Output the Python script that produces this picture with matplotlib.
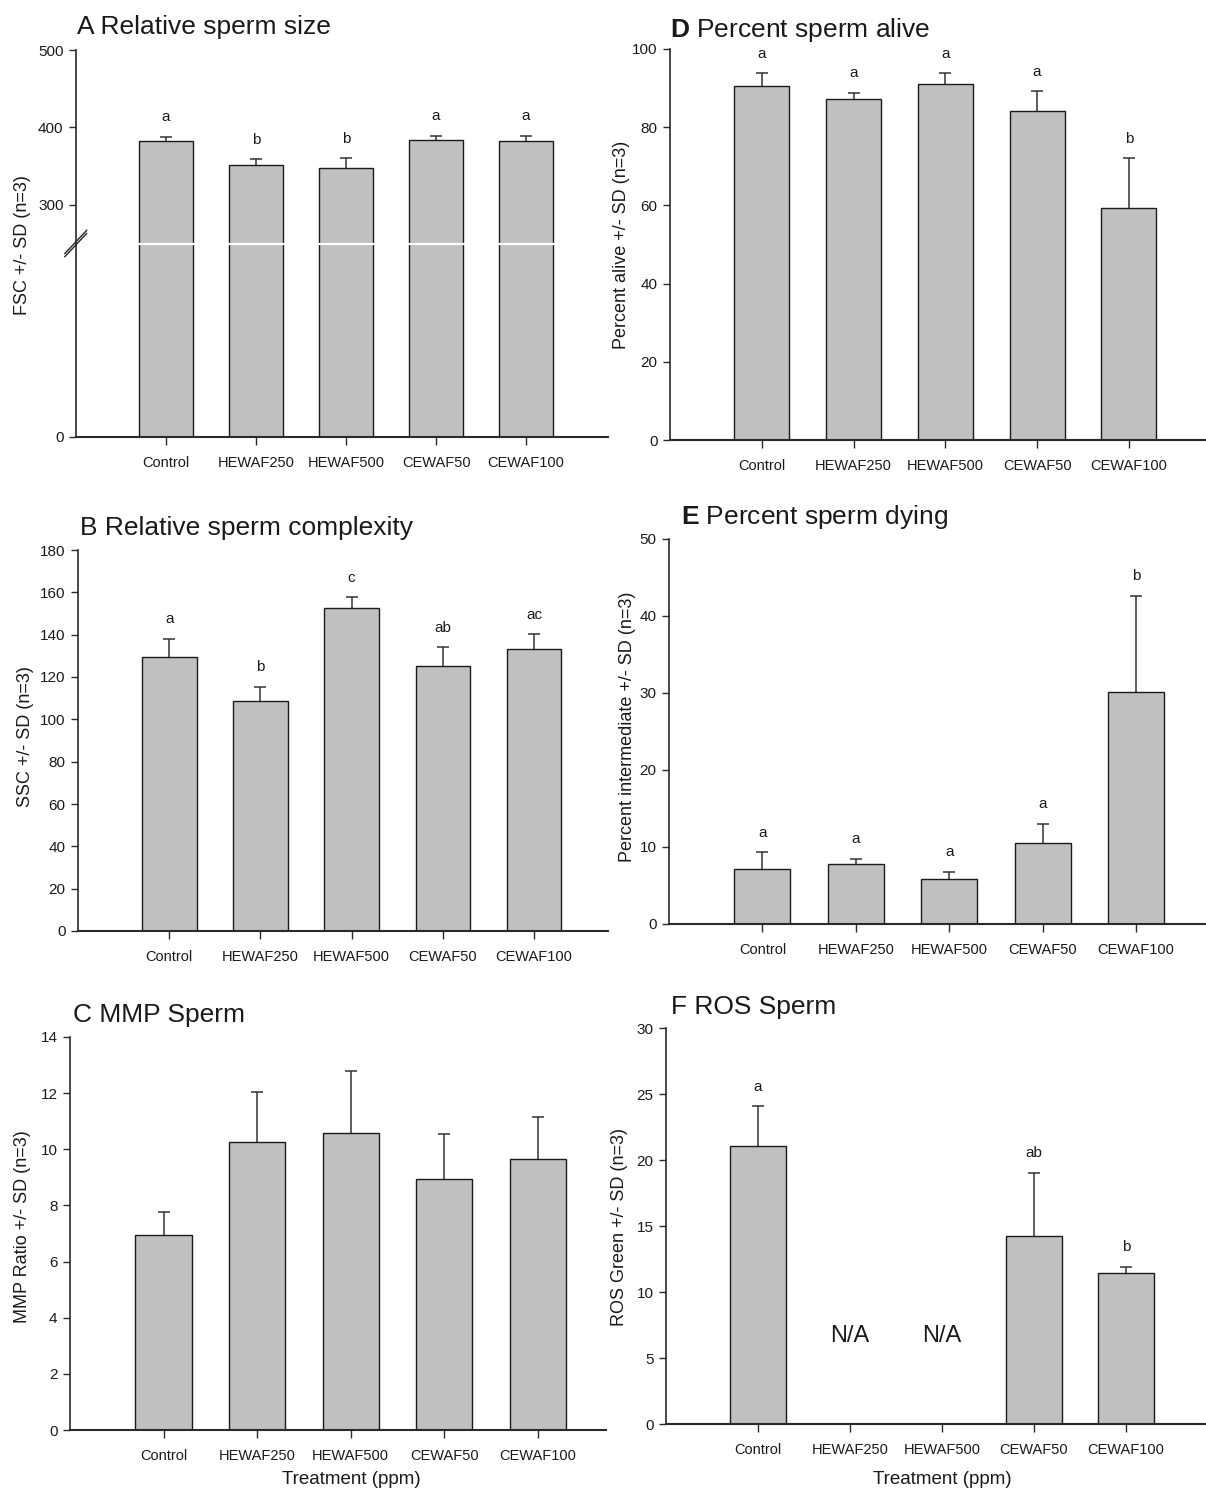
import numpy as np
import matplotlib
matplotlib.use("Agg")
import matplotlib.pyplot as plt

plt.rcParams['font.family'] = ['Liberation Sans', 'DejaVu Sans']
plt.rcParams['mathtext.fontset'] = 'custom'
plt.rcParams['mathtext.rm'] = 'Liberation Sans'
plt.rcParams['mathtext.bf'] = 'Liberation Sans:bold'

# treatments
categories = ['Control', 'HEWAF250', 'HEWAF500', 'CEWAF50', 'CEWAF100']

# A relative sperm size (FSC)
size_mean = [383, 351, 348, 384, 382]
size_sd = [5, 8, 12, 5, 7]
size_letters = ['a', 'b', 'b', 'a', 'a']

# B relative sperm complexity (SSC)
complexity_mean = [129.5, 108.5, 152.7, 125.0, 133.0]
complexity_sd = [8.6, 6.9, 5.1, 9.0, 7.1]
complexity_letters = ['a', 'b', 'c', 'ab', 'ac']

# C MMP ratio
mmp_mean = [6.95, 10.27, 10.57, 8.94, 9.67]
mmp_sd = [0.83, 1.76, 2.23, 1.62, 1.49]

# D percent alive
alive_mean = [90.5, 87.1, 91.0, 84.1, 59.4]
alive_sd = [3.3, 1.7, 2.8, 5.1, 12.6]
alive_letters = ['a', 'a', 'a', 'a', 'b']

# E percent intermediate (dying)
dying_mean = [7.11, 7.76, 5.89, 10.57, 30.08]
dying_sd = [2.21, 0.69, 0.91, 2.43, 12.57]
dying_letters = ['a', 'a', 'a', 'a', 'b']

# F ROS green (no data for HEWAF groups)
ros_mean = [21.08, np.nan, np.nan, 14.22, 11.46]
ros_sd = [3.01, np.nan, np.nan, 4.82, 0.44]
ros_letters = ['a', '', '', 'ab', 'b']

W, H = 1206, 1490
fig = plt.figure(figsize=(W / 100, H / 100), dpi=100)

TXT = '#1a1a1a'
AXC = '#2a2a2a'


def px_axes(left, right, top, bottom):
    return fig.add_axes([left / W, 1 - bottom / H, (right - left) / W, (bottom - top) / H])


def bar_panel(ax, mean, sd, letters, ylim, yticks, xright):
    x = np.arange(len(categories))
    m = np.array(mean, dtype=float)
    s = np.array(sd, dtype=float)
    ok = ~np.isnan(m)
    eb = ax.errorbar(x[ok], m[ok], yerr=[np.zeros(ok.sum()), s[ok]], fmt='none',
                     ecolor='#333333', elinewidth=1.1, capsize=4, capthick=1.1, zorder=1)
    # only the upper cap, like the original
    if len(eb[1]) == 2:
        eb[1][0].set_visible(False)
    ax.bar(x[ok], m[ok], width=0.6, color='#c0c0c0', edgecolor='#1a1a1a',
           linewidth=1.0, zorder=2)
    if letters:
        for xi, mi, si, lab in zip(x, m, s, letters):
            if lab and not np.isnan(mi):
                ax.annotate(lab, (xi, mi + si), xytext=(0, 14), textcoords='offset points',
                            ha='center', va='center', fontsize=11, color=TXT)
    ax.set_xlim(-1, xright)
    ax.set_ylim(*ylim)
    ax.set_yticks(yticks)
    ax.set_xticks(x)
    ax.set_xticklabels(categories)
    for sp in ['top', 'right']:
        ax.spines[sp].set_visible(False)
    for sp in ['left', 'bottom']:
        ax.spines[sp].set_color(AXC)
        ax.spines[sp].set_linewidth(1.2)
    ax.spines['bottom'].set_linewidth(1.5)
    ax.tick_params(axis='y', direction='out', length=5, width=1, colors=AXC,
                   labelsize=11, labelcolor=TXT, pad=4)
    ax.tick_params(axis='x', direction='out', length=6, width=1, colors=AXC,
                   labelsize=10.5, labelcolor=TXT, pad=8)


# A
axA = px_axes(76, 608, 50, 437)
bar_panel(axA, size_mean, size_sd, size_letters, (0, 500), [0, 300, 400, 500], 4.91)
axA.axhline(250, xmin=0.02, color='white', lw=1.6, zorder=3)
for dy in (-0.004, 0.004):
    axA.plot([-0.021, 0.020], [0.470 + dy, 0.530 + dy], transform=axA.transAxes,
             color='#222222', lw=1.0, clip_on=False, zorder=5)

# B
axB = px_axes(78, 608, 550, 931)
bar_panel(axB, complexity_mean, complexity_sd, complexity_letters, (0, 180),
          np.arange(0, 181, 20), 4.81)

# C
axC = px_axes(70, 606, 1037, 1430)
bar_panel(axC, mmp_mean, mmp_sd, None, (0, 14), np.arange(0, 15, 2), 4.73)

# D
axD = px_axes(670, 1206, 49, 440)
bar_panel(axD, alive_mean, alive_sd, alive_letters, (0, 100), np.arange(0, 101, 20), 4.84)

# E
axE = px_axes(669, 1206, 539, 924)
bar_panel(axE, dying_mean, dying_sd, dying_letters, (0, 50), np.arange(0, 51, 10), 4.75)

# F
axF = px_axes(666, 1206, 1028, 1424)
bar_panel(axF, ros_mean, ros_sd, ros_letters, (0, 30), np.arange(0, 31, 5), 4.87)
for i, v in enumerate(ros_mean):
    if np.isnan(v):
        axF.text(i, 6.7, 'N/A', ha='center', va='center', fontsize=17, color=TXT)

# titles
def ftext(x, y, s, **kw):
    fig.text(x / W, 1 - y / H, s, color=TXT, **kw)


ftext(77, 27, 'A Relative sperm size', fontsize=19, ha='left', va='center')
ftext(670, 30, r'$\mathbf{D}$ Percent sperm alive', fontsize=19, ha='left', va='center')
ftext(80, 528, 'B Relative sperm complexity', fontsize=19, ha='left', va='center')
ftext(681, 517, r'$\mathbf{E}$ Percent sperm dying', fontsize=19, ha='left', va='center')
ftext(73, 1015, 'C MMP Sperm', fontsize=19, ha='left', va='center')
ftext(671, 1007, 'F ROS Sperm', fontsize=19, ha='left', va='center')

# y labels
ftext(23, 245, 'FSC +/- SD (n=3)', fontsize=13, rotation=90, ha='center', va='center')
ftext(25, 737, 'SSC +/- SD (n=3)', fontsize=13, rotation=90, ha='center', va='center')
ftext(23, 1227, 'MMP Ratio +/- SD (n=3)', fontsize=13, rotation=90, ha='center', va='center')
ftext(622, 245, 'Percent alive +/- SD (n=3)', fontsize=13, rotation=90, ha='center', va='center')
ftext(627, 727, 'Percent intermediate +/- SD (n=3)', fontsize=13, rotation=90, ha='center', va='center')
ftext(619, 1227, 'ROS Green +/- SD (n=3)', fontsize=13, rotation=90, ha='center', va='center')

# x labels
ftext(351, 1480, 'Treatment (ppm)', fontsize=13.5, ha='center', va='center')
ftext(942, 1480, 'Treatment (ppm)', fontsize=13.5, ha='center', va='center')

fig.savefig('out.png', dpi=100, facecolor='white')
